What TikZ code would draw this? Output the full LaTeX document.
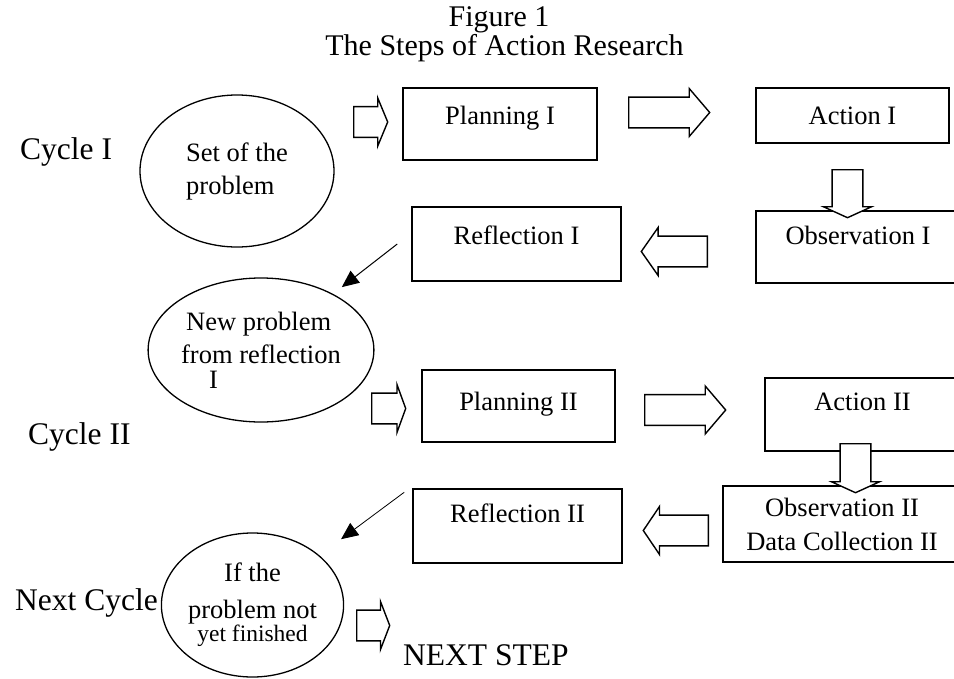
\documentclass[tikz,border=0pt]{standalone}
\usepackage{fontspec}
\setmainfont{Liberation Serif}
\usetikzlibrary{arrows.meta, positioning, shapes.geometric, shapes.arrows}

\newcommand{\boxfont}{\fontsize{26.5pt}{33pt}\selectfont}
\newcommand{\bigfont}{\fontsize{31.5pt}{36pt}\selectfont}
\newcommand{\titlefont}{\fontsize{30pt}{34pt}\selectfont}
\newcommand{\smallfont}{\fontsize{23.5pt}{26pt}\selectfont}

\begin{document}
\begin{tikzpicture}[x=1pt, y=-1pt,
		base/.style = {draw, line width=1.5pt, inner sep=0pt, font=\boxfont},
		stage/.style = {rectangle, base, text height=18pt, text depth=18pt},
		problem/.style = {ellipse, base, line width=1.3pt},
		bigarrow/.style = {draw, fill=white, single arrow, line width=1.4pt, inner sep=12pt, minimum width=48pt, anchor=tail},
		pointer/.style = {-{Triangle[length=17pt,width=15pt]}, line width=1pt},
		cyclelabel/.style = {anchor=base west, inner sep=0pt, font=\bigfont}
		]
		\useasboundingbox (0,0) rectangle (954,678);
		\clip (0,0) rectangle (954,678);

		% title
		\node (fig) [anchor=base, font=\titlefont] at (499,26) {Figure 1};
		\node (title) [anchor=base, font=\titlefont] at (504.5,55) {The Steps of Action Research};

		% cycle I
		\node (c1) [cyclelabel] at (20,159) {Cycle I};
		\node (prob1) [problem, minimum width=194pt, minimum height=152pt, align=left] at (237,171) {Set of the\\problem};
		\node (plan1) [stage, minimum width=194pt, minimum height=72pt] at (500,124) {Planning I};
		\node (act1) [stage, minimum width=193pt, minimum height=55pt, text height=26.5pt, text depth=9.5pt] at (852.5,115.5) {Action I};
		\node (obs1) [stage, minimum width=204pt, minimum height=72pt, text height=15pt, text depth=21pt] at (858,247) {Observation I};
		\node (refl1) [stage, minimum width=209pt, minimum height=74pt] at (516.5,244) {Reflection I};

		\node (p1in) [bigarrow, minimum height=34pt, single arrow tip angle=135] at (353,122) {};
		\node (a1) [bigarrow, minimum height=81pt, single arrow tip angle=99] at (628,112.5) {};
		\node (d1) [bigarrow, minimum height=48pt, single arrow tip angle=131, shape border rotate=270] at (847.5,169) {};
		\node (l1) [bigarrow, minimum height=66pt, single arrow tip angle=110, shape border rotate=180] at (708,251.5) {};

		% cycle II
		\node (c2) [cyclelabel] at (28,444) {Cycle II};
		\node (newprob) [problem, minimum width=176pt, minimum height=144pt, align=left] at (261,350) {\hspace*{5pt}New problem\\from reflection\\[-8pt]\hspace*{28pt}I};
		\node (plan2) [stage, minimum width=193pt, minimum height=72pt, text height=22pt, text depth=14pt] at (518.5,406) {Planning II};
		\node (act2) [stage, minimum width=195pt, minimum height=73pt, text height=13.5pt, text depth=22.5pt] at (862.5,414.5) {Action II};
		\node (obs2) [rectangle, base, minimum width=238pt, minimum height=76pt, align=center] at (842,524) {Observation II\\[1pt]Data Collection II};
		\node (refl2) [stage, minimum width=209pt, minimum height=74pt, text height=14pt, text depth=22pt] at (517.5,526) {Reflection II};

		\node (p2in) [bigarrow, minimum height=34pt, single arrow tip angle=140] at (371,408.5) {};
		\node (a2) [bigarrow, minimum height=81pt, single arrow tip angle=99] at (644,410) {};
		\node (d2) [bigarrow, minimum height=49pt, single arrow tip angle=131, shape border rotate=270] at (855.5,443) {};
		\node (l2) [bigarrow, minimum height=65pt, single arrow tip angle=112, shape border rotate=180] at (709,530.5) {};

		% next cycle
		\node (c3) [cyclelabel] at (15,610) {Next Cycle};
		\node (ifprob) [problem, minimum width=179pt, minimum height=144pt, align=center] at (252.5,605) {If the\\[4pt]problem not\\[-10pt]{\smallfont yet finished}};
		\node (nxin) [bigarrow, minimum height=33pt, single arrow tip angle=138] at (356,625.5) {};
		\node (next) [cyclelabel] at (403,665) {NEXT STEP};

		\draw[pointer, shorten >=11pt] ([xshift=-14pt]refl1.west) -- (newprob);
		\draw[pointer, line width=0.8pt, shorten >=27pt] ([xshift=-8pt, yshift=-4pt]refl2.north west) -- (ifprob);
	\end{tikzpicture}
\end{document}
